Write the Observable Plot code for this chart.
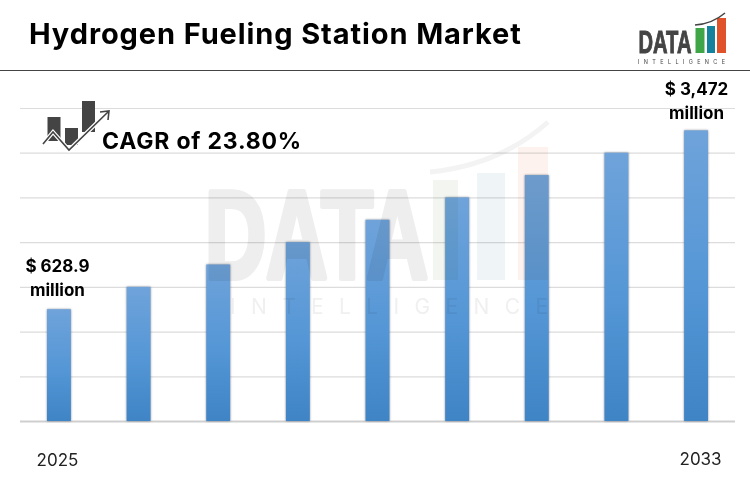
<!DOCTYPE html>
<html><head><meta charset="utf-8">
<script src="https://cdn.jsdelivr.net/npm/d3@7"></script>
<script src="https://cdn.jsdelivr.net/npm/@observablehq/plot@0.6"></script>
<style>
html,body{margin:0;padding:0;background:#fff;width:750px;height:500px;overflow:hidden;font-family:Inter,sans-serif}
#page{position:relative;width:750px;height:500px}
#header{height:69.5px;border-bottom:1.5px solid #444;box-sizing:content-box;position:relative}
#title{position:absolute;left:29px;top:16px;font-size:29px;font-weight:700;letter-spacing:.9px;color:#000;white-space:nowrap;line-height:36px}
#cagr{position:absolute;left:102px;top:126px;font-size:23px;font-weight:700;letter-spacing:.8px;color:#000;white-space:nowrap;line-height:30px}
.over{position:absolute;left:0;top:0;pointer-events:none}
#chart svg{display:block}
.bars{filter:drop-shadow(0 0 1.2px rgba(40,50,70,.55))}
</style></head><body>
<div id="page">
<div id="header"><div id="title">Hydrogen Fueling Station Market</div></div>
<div id="chart"></div>
<svg class="over" width="750" height="500" style="mix-blend-mode:multiply">
  <g>
    <text x="205" y="278" font-family="Liberation Sans" font-weight="700" font-size="124" fill="#eeeeee" stroke="#eeeeee" stroke-width="6" stroke-linejoin="round" textLength="223" lengthAdjust="spacingAndGlyphs">DATA</text>
    <rect x="433" y="180" width="25" height="100" fill="#f3f6f0"/>
    <rect x="477" y="173" width="28" height="107" fill="#eff5f7"/>
    <rect x="518" y="147" width="30" height="133" fill="#fdf2ee"/>
    <path d="M430 172Q500 165 548 122" fill="none" stroke="#f3f3f3" stroke-width="5"/>
    <text x="230" y="314" font-family="Inter" font-size="21" fill="#f0f0f0" textLength="318">INTELLIGENCE</text>
  </g>
</svg>
<svg class="over" width="750" height="500">
  <text x="638.5" y="53" font-family="Liberation Sans" font-weight="700" font-size="31" fill="#444" stroke="#444" stroke-width="1" textLength="53" lengthAdjust="spacingAndGlyphs">DATA</text>
  <rect x="695.5" y="28" width="9" height="25" fill="#3fa648"/>
  <rect x="707" y="26" width="8" height="27" fill="#14829c"/>
  <rect x="717" y="18" width="9" height="35" fill="#e0532a"/>
  <path d="M695 25Q712 24 725 13" fill="none" stroke="#444" stroke-width="1.5"/>
  <text x="638" y="64" font-family="Inter" font-size="5.5" fill="#444" textLength="87">INTELLIGENCE</text>
  <rect x="47.5" y="117" width="13" height="24" fill="#444"/>
  <rect x="65" y="128" width="13" height="17" fill="#444"/>
  <rect x="82" y="101" width="13" height="31" fill="#444"/>
  <path d="M43 144L53 132L69 150L109 111" fill="none" stroke="#fff" stroke-width="4"/>
  <path d="M43 144L53 132L69 150L109 111M100 112L109 111L108 120" fill="none" stroke="#444" stroke-width="1.6"/>
</svg>
<div id="cagr">CAGR of 23.80%</div>
</div>
<script>
const years = [2025,2026,2027,2028,2029,2030,2031,2032,2033];
const heights = [2.5,3,3.5,4,4.5,5,5.5,6,6.5];
const gridLevels = [1,2,3,4,5,6,7];
const firstYear = [2025];
const lastYear = [2033];
const startLabel = ["$ 628.9","million"];
const endLabel = ["$ 3,472","million"];
const table = years.map((year,i)=>({year,height:heights[i]}));
const defs = () => {
  const d = d3.create("svg:defs");
  const g = d.append("linearGradient").attr("id","barGrad").attr("x1",0).attr("x2",0).attr("y1",0).attr("y2",1);
  g.append("stop").attr("offset","0%").attr("stop-color","#6fa3da");
  g.append("stop").attr("offset","55%").attr("stop-color","#5496d6");
  g.append("stop").attr("offset","100%").attr("stop-color","#3f84c5");
  return d.node();
};
const plot = Plot.plot({
  width:750, height:429, marginTop:37, marginBottom:79, marginLeft:20, marginRight:15,
  style:{background:"transparent",fontFamily:"Inter"},
  x:{type:"band",domain:years,range:[47,708],paddingInner:0.7,paddingOuter:0,align:0.5,round:false},
  y:{domain:[0,7],axis:null},
  marks:[
    defs,
    Plot.ruleY(gridLevels,{stroke:"#dcdcdc",strokeWidth:1.2,strokeOpacity:1}),
    Plot.ruleY([0],{stroke:"#cfcfcf",strokeWidth:1.8}),
    Plot.barY(table,{x:"year",y:"height",fill:"url(#barGrad)",className:"bars"}),
    Plot.axisX({ticks:firstYear,tickSize:0,tickPadding:32,fontSize:17,dx:-2,fill:"#222",label:null,tickFormat:d=>String(d)}),
    Plot.axisX({ticks:lastYear,tickSize:0,tickPadding:31,fontSize:17,dx:4,fill:"#222",label:null,tickFormat:d=>String(d)}),
    Plot.text([startLabel.join("\n")],{x:()=>2025,y:()=>2.5,dx:-2,dy:-14,lineHeight:1.41,fontSize:17,fontWeight:700,fill:"#000",text:d=>d,lineAnchor:"bottom"}),
    Plot.text([endLabel.join("\n")],{x:()=>2033,y:()=>6.5,dy:-12,lineHeight:1.38,fontSize:17,fontWeight:700,fill:"#000",text:d=>d,lineAnchor:"bottom"})
  ]
});
document.getElementById("chart").appendChild(plot);
</script>
</body></html>
